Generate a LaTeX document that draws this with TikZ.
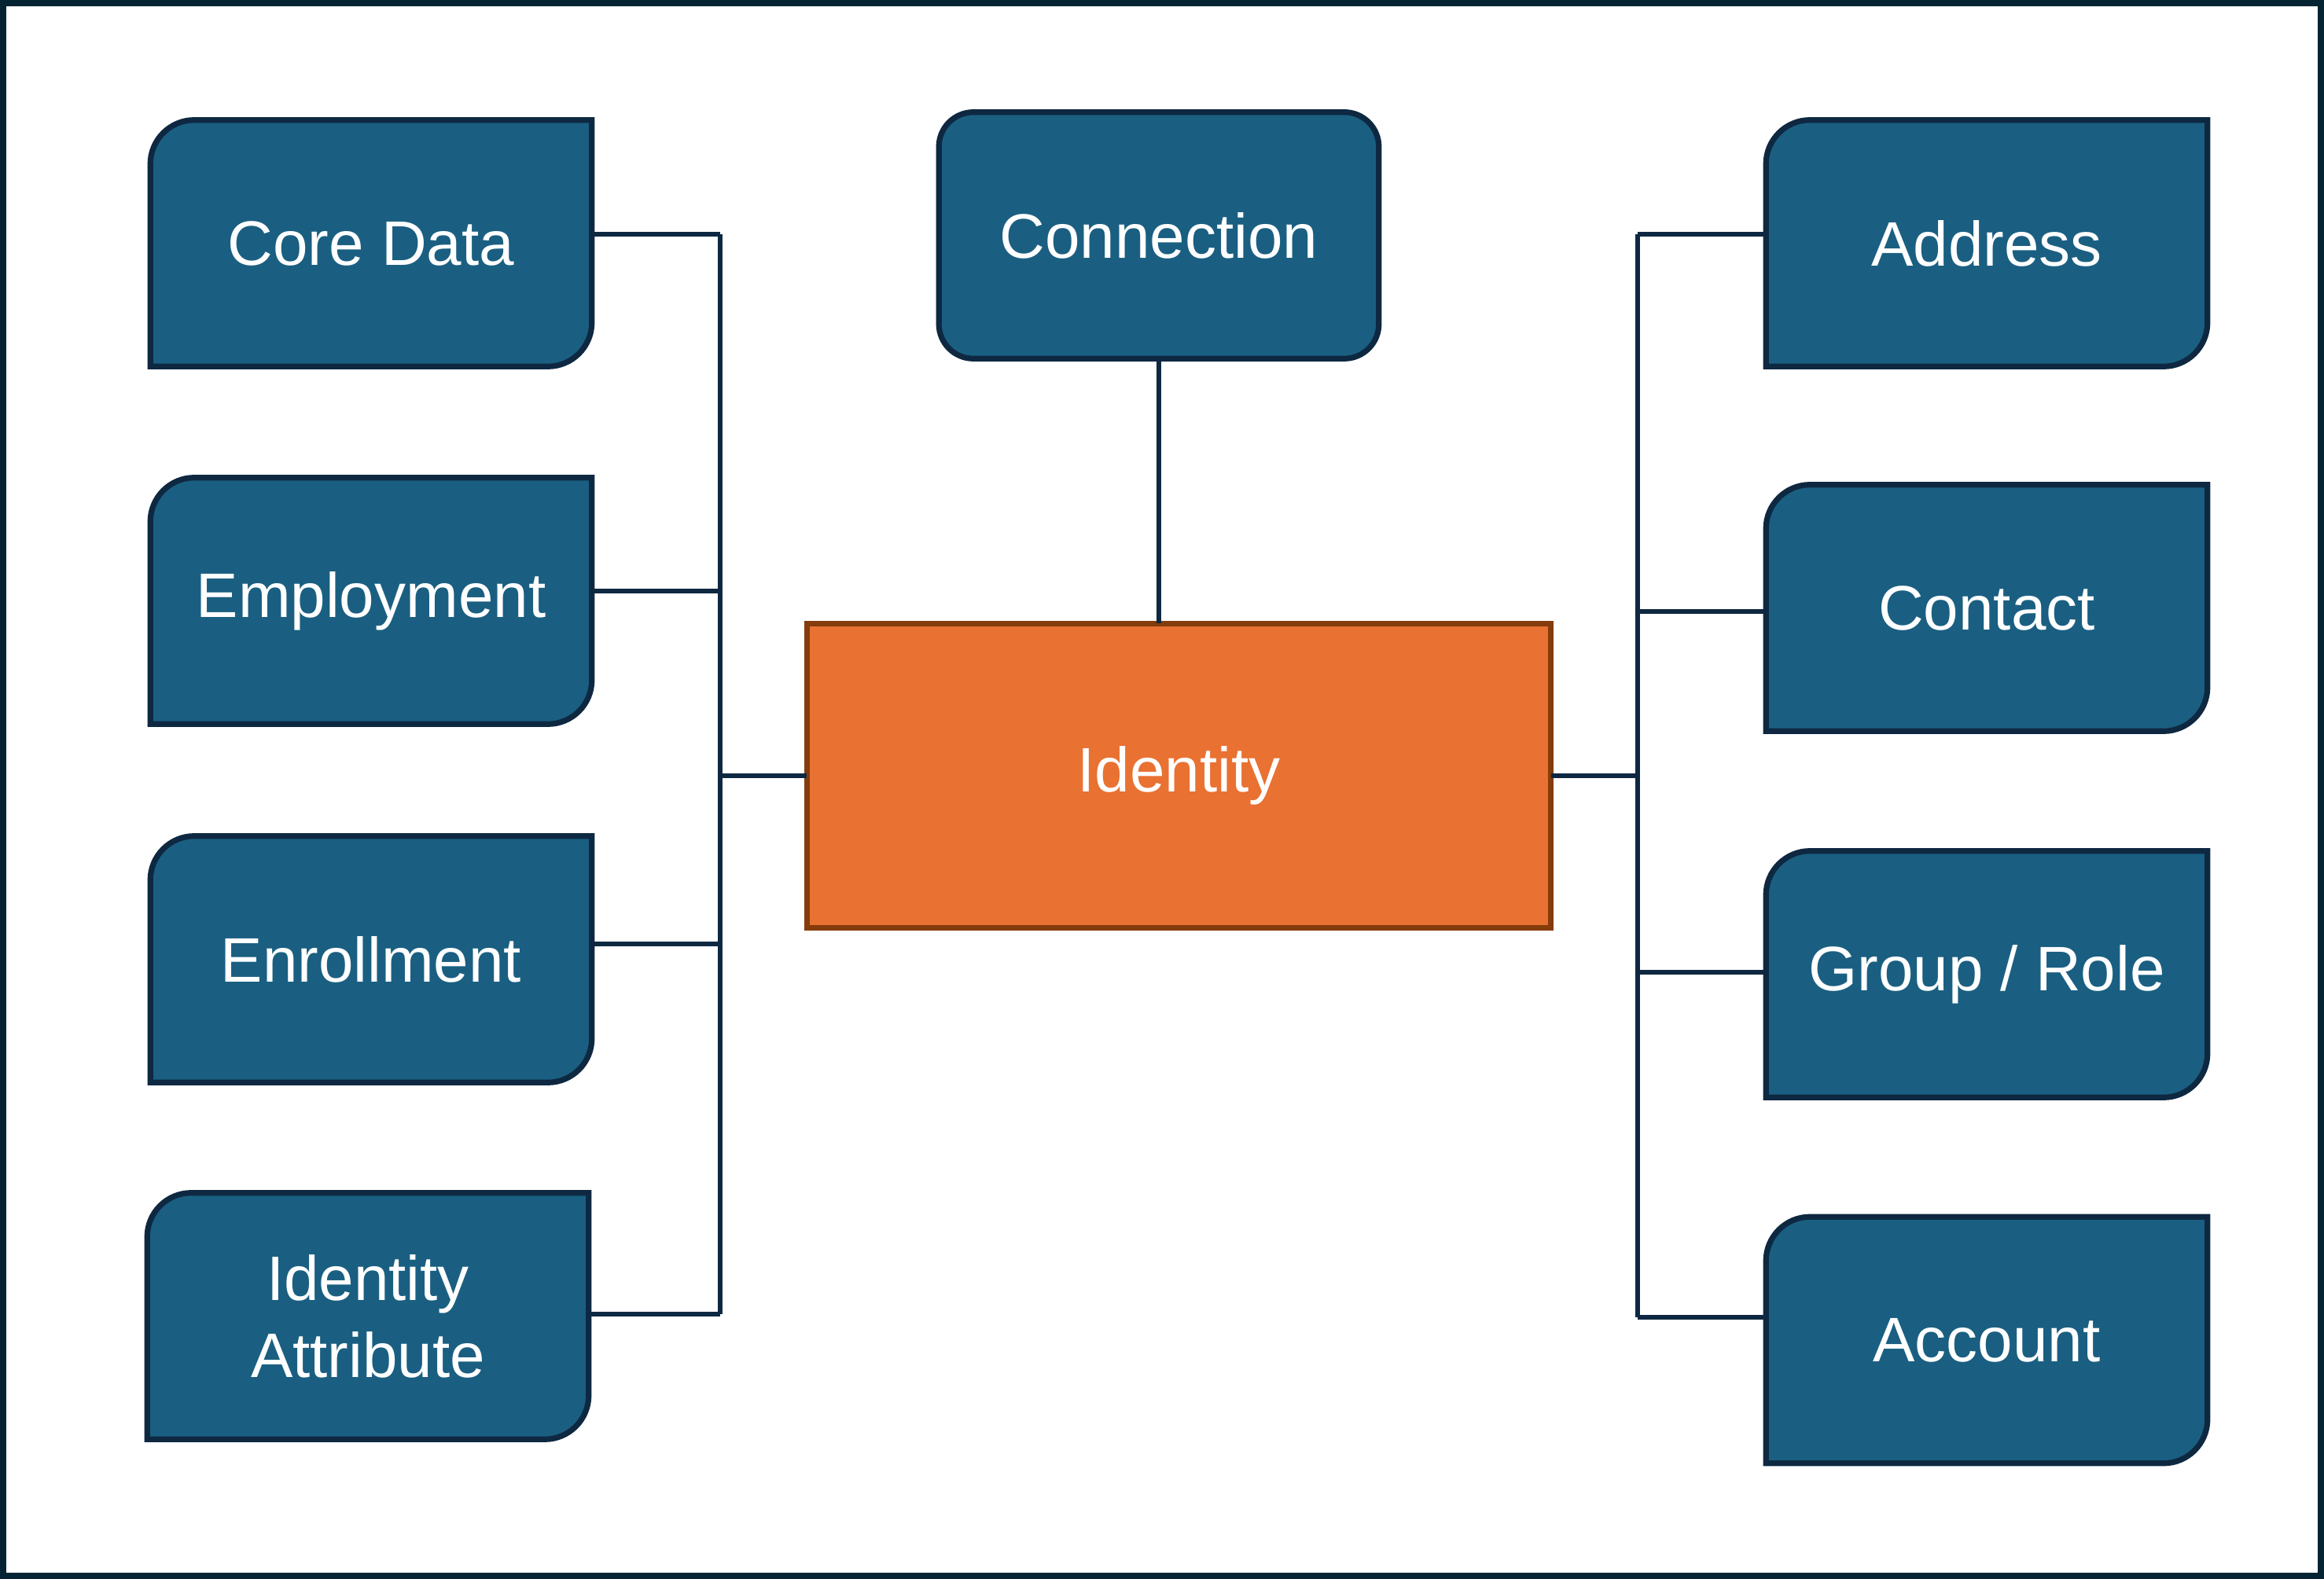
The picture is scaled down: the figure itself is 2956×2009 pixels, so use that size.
\documentclass[tikz,border=0pt]{standalone}
\usepackage{fontspec}
\setmainfont{Liberation Sans}
\usetikzlibrary{calc,backgrounds}
\definecolor{boxfill}{HTML}{1A5F81}
\definecolor{boxline}{HTML}{0E2841}
\definecolor{idfill}{HTML}{E97132}
\definecolor{idline}{HTML}{843C0C}
\definecolor{frame}{HTML}{042433}
\tikzset{
  x=0.25pt,y=0.25pt,
  lbl/.style={text=white,font=\fontsize{20}{24}\selectfont,align=center,inner sep=0pt,
    minimum width=140pt,minimum height=78pt},
  shapeline/.style={draw=boxline,fill=boxfill,line width=1.8pt},
  conn/.style={draw=boxline,line width=1.4pt},
}
\newcommand{\diagshape}[2]{%
  \path[shapeline] (#1.south west) -- ($(#1.north west)+(0,-#2)$)
    arc[start angle=180,end angle=90,radius=#2] -- (#1.north east)
    -- ($(#1.south east)+(0,#2)$) arc[start angle=0,end angle=-90,radius=#2] -- cycle;}
\begin{document}
\begin{tikzpicture}
\useasboundingbox (0,0) rectangle (2956,-2009);

% left column
\node[lbl] (core) at (472,-309.5) {Core Data};
\node[lbl] (empl) at (472,-764.5) {Employment};
\node[lbl] (enrl) at (472,-1220.5) {Enrollment};
\node[lbl] (iatt) at (468,-1674.5) {Identity\\[0.5pt]Attribute};
% centre
\node[lbl,minimum width=139.5pt] (conx) at (1474,-299.5) {Connection};
\node[lbl,minimum width=236.25pt,minimum height=96.5pt] (ident) at (1499.5,-987) {Identity};
% right column
\node[lbl] (addr) at (2527,-309.5) {Address};
\node[lbl] (cont) at (2527,-773.5) {Contact};
\node[lbl] (grp) at (2527,-1239.5) {Group / Role};
\node[lbl] (acct) at (2527,-1705) {Account};

\begin{scope}[on background layer]
  \fill[white] (0,0) rectangle (2956,-2009);
  \draw[frame,line width=2pt] (4,-4) rectangle (2952,-2005);
  \diagshape{core}{14pt}
  \diagshape{empl}{14pt}
  \diagshape{enrl}{14pt}
  \diagshape{iatt}{14pt}
  \diagshape{addr}{14pt}
  \diagshape{cont}{14pt}
  \diagshape{grp}{14pt}
  \diagshape{acct}{14pt}
  \path[shapeline,rounded corners=11pt] (conx.south west) rectangle (conx.north east);
  \path[draw=idline,fill=idfill,line width=1.8pt] (ident.south west) rectangle (ident.north east);
\end{scope}

% connectors
\coordinate (lb1) at (916,-298);
\coordinate (lb2) at (916,-752);
\coordinate (lb3) at (916,-1201);
\coordinate (lb4) at (916,-1672);
\coordinate (rb1) at (2083,-298);
\coordinate (rb2) at (2083,-778);
\coordinate (rb3) at (2083,-1237);
\coordinate (rb4) at (2083,-1676);

\draw[conn] (core.east |- lb1) -- (lb1);
\draw[conn] (empl.east |- lb2) -- (lb2);
\draw[conn] (enrl.east |- lb3) -- (lb3);
\draw[conn] (iatt.east |- lb4) -- (lb4);
\draw[conn] (lb1) -- (lb4);
\draw[conn] (ident.west) -- (ident.west -| lb1);

\draw[conn] (addr.west |- rb1) -- (rb1);
\draw[conn] (cont.west |- rb2) -- (rb2);
\draw[conn] (grp.west |- rb3) -- (rb3);
\draw[conn] (acct.west |- rb4) -- (rb4);
\draw[conn] (rb1) -- (rb4);
\draw[conn] (ident.east) -- (ident.east -| rb1);

\draw[conn] (conx.south) -- (ident.north -| conx.south);
\end{tikzpicture}
\end{document}
